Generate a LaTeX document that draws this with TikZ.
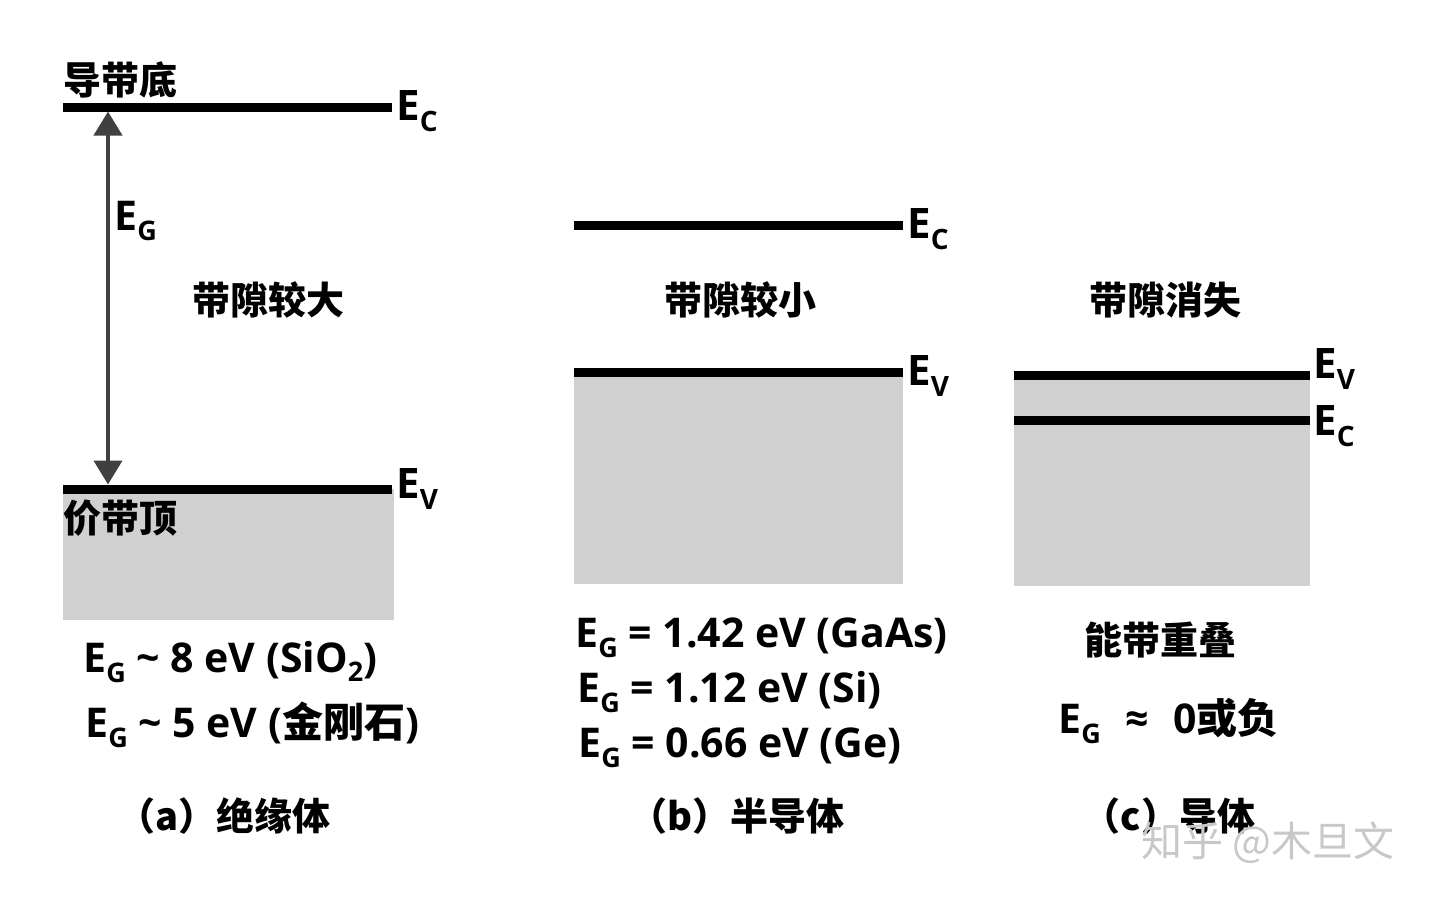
\documentclass[tikz,border=0pt]{standalone}
\usepackage{fontspec}
\setmainfont{Open Sans}
\newfontfamily\cjk{Noto Sans CJK SC}
\usepackage{tikz}
\usetikzlibrary{arrows.meta}
\definecolor{bandg}{RGB}{208,208,208}
\definecolor{arrg}{RGB}{64,64,64}
\definecolor{markg}{RGB}{200,200,200}
\newcommand{\lvl}[1]{E\raisebox{-5.5pt}{\fontsize{14}{14}\selectfont #1}}
\newcommand{\eg}{E\raisebox{-5pt}{\fontsize{13.5}{13.5}\selectfont G}}
\newcommand{\lowtwo}{\raisebox{-4.5pt}{\fontsize{13.5}{13.5}\selectfont 2}}

\begin{document}
\begin{tikzpicture}[
  x=0.5pt,y=-0.5pt,
  lvl/.style={line width=4.5pt},
  band/.style={fill=bandg},
  elab/.style={anchor=base west,inner sep=0pt,font=\fontsize{21}{21}\selectfont\bfseries},
  cn/.style={inner sep=0pt,font=\fontsize{19}{19}\selectfont\bfseries\cjk},
  val/.style={anchor=base west,inner sep=0pt,font=\fontsize{20.5}{20.5}\selectfont\bfseries},
  wm/.style={inner sep=0pt,text=markg,font=\fontsize{20.5}{20.5}\selectfont\cjk},
  gaparr/.style={{Triangle[length=12pt,width=14pt]}-{Triangle[length=12pt,width=14pt]},
                 line width=2pt,draw=arrg}
]
\useasboundingbox (0,0) rectangle (1440,901);

% (a) insulator
\fill[band] (63,489) rectangle (394,620);
\draw[lvl] (63,107) -- (392,107);
\draw[lvl] (63,489) -- (392,489);
\coordinate (ecA) at (108,111.5);
\coordinate (evA) at (108,484.5);
\draw[gaparr] (ecA) -- (evA);
\node[cn,anchor=west] (cbA) at (63,80) {导带底};
\node[cn,anchor=west] (vtA) at (63,518) {价带顶};
\node[elab] (ecLA) at (396,120) {\lvl{C}};
\node[elab] (evLA) at (396,498) {\lvl{V}};
\node[val] (egA) at (114,230) {\eg};
\node[cn] (gapA) at (268,300) {带隙较大};
\node[val] (sio) at (83,672) {\eg{} \textasciitilde{} 8 eV (SiO\lowtwo)};
\node[val] (dia) at (85,737) {\eg{} \textasciitilde{} 5 eV ({\cjk 金刚石})};
\node[cn] (capA) at (224,816) {（a）绝缘体};

% (b) semiconductor
\fill[band] (574,372) rectangle (903,584);
\draw[lvl] (574,225) -- (903,225);
\draw[lvl] (574,372) -- (903,372);
\node[elab] (ecLB) at (907,238) {\lvl{C}};
\node[elab] (evLB) at (907,385) {\lvl{V}};
\node[cn] (gapB) at (740,300) {带隙较小};
\node[val] (gaas) at (575,647) {\eg{} = 1.42 eV (GaAs)};
\node[val] (si) at (577,702) {\eg{} = 1.12 eV (Si)};
\node[val] (ge) at (578,757) {\eg{} = 0.66 eV (Ge)};
\node[cn] (capB) at (737,816) {（b）半导体};

% (c) conductor
\fill[band] (1014,375) rectangle (1310,586);
\draw[lvl] (1014,375) -- (1310,375);
\draw[lvl] (1014,420) -- (1310,420);
\node[elab] (evLC) at (1313,378) {\lvl{V}};
\node[elab] (ecLC) at (1313,435) {\lvl{C}};
\node[cn] (gapC) at (1165,300) {带隙消失};
\node[cn] (ovl) at (1160,640) {能带重叠};
\node[val] (zero) at (1058,733) {\eg\hspace{0.6em}≈\hspace{0.6em}0{\cjk 或负}};
\node[cn] (capC) at (1169,816) {（c）导体};

\node[wm] (mark) at (1268,843) {知乎 @木旦文};
\end{tikzpicture}
\end{document}
